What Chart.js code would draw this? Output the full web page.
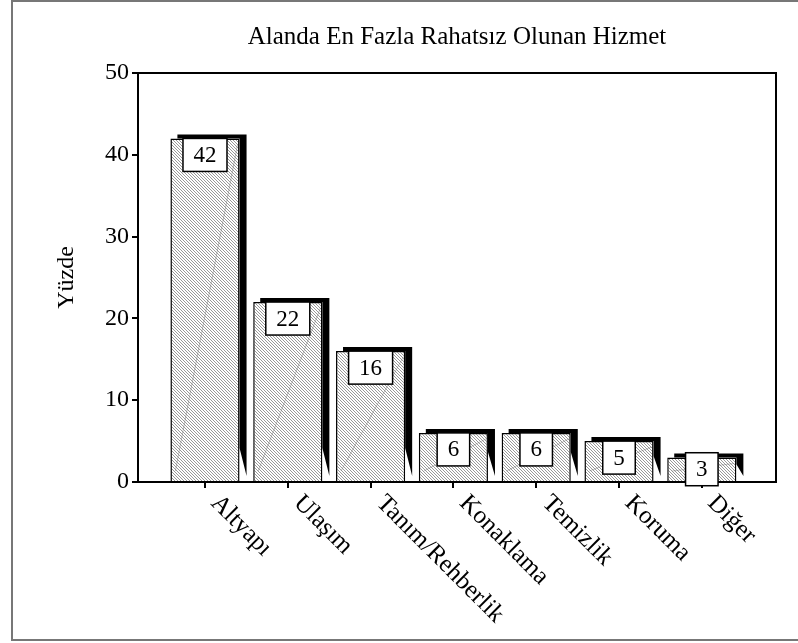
<!DOCTYPE html>
<html>
<head>
<meta charset="utf-8">
<script src="https://cdn.jsdelivr.net/npm/chart.js@4"></script>
<style>
html, body { margin: 0; padding: 0; background: #fff; }
</style>
</head>
<body>
<canvas id="grafico" width="798" height="643"></canvas>
<script>
var kategoriler = ["Altyapı", "Ulaşım", "Tanım/Rehberlik", "Konaklama", "Temizlik", "Koruma", "Diğer"];
var yuzdeler = [42, 22, 16, 6, 6, 5, 3];
var yEtiketleri = [0, 10, 20, 30, 40, 50];
var baslik = "Alanda En Fazla Rahatsız Olunan Hizmet";
var eksenBasligi = "Yüzde";

var fuente = "'Liberation Serif', 'Times New Roman', serif";

function crearTrama(ctx)
{
    var c = document.createElement('canvas');
    c.width = 3;
    c.height = 3;
    var g = c.getContext('2d');
    g.fillStyle = '#fff';
    g.fillRect(0, 0, 3, 3);
    g.fillStyle = '#999';
    for (var i = 0; i < 3; i++) {
        g.fillRect(i, i, 1, 1);
    }
    return ctx.createPattern(c, 'repeat');
}

// marco exterior y caja del grafico
var marco = {
    id: 'marco',
    beforeDraw: function(chart) {
        var ctx = chart.ctx;
        ctx.save();
        ctx.fillStyle = '#fff';
        ctx.fillRect(0, 0, chart.width, chart.height);
        ctx.strokeStyle = '#777';
        ctx.lineWidth = 2;
        ctx.beginPath();
        ctx.moveTo(chart.width, 1);
        ctx.lineTo(12, 1);
        ctx.lineTo(12, 640);
        ctx.lineTo(chart.width, 640);
        ctx.stroke();
        ctx.restore();
    },
    afterDraw: function(chart) {
        var a = chart.chartArea;
        var ctx = chart.ctx;
        ctx.save();
        ctx.strokeStyle = '#000';
        ctx.lineWidth = 2;
        ctx.beginPath();
        ctx.moveTo(a.left, a.top);
        ctx.lineTo(a.right, a.top);
        ctx.lineTo(a.right, a.bottom);
        ctx.stroke();
        ctx.restore();
    }
};

// sombra negra detras de cada barra
var sombras = {
    id: 'sombras',
    beforeDatasetsDraw: function(chart) {
        var ctx = chart.ctx;
        var meta = chart.getDatasetMeta(0);
        ctx.save();
        ctx.fillStyle = '#000';
        meta.data.forEach(function(b) {
            var L = b.x - b.width / 2;
            var R = b.x + b.width / 2;
            var alto = b.base - b.y;
            var k = Math.min(28, alto * 0.5);
            ctx.beginPath();
            ctx.moveTo(L + 7, b.y - 4);
            ctx.lineTo(R + 7, b.y - 4);
            ctx.lineTo(R + 7, b.base - 5);
            ctx.lineTo(R, b.base - 5 - k);
            ctx.lineTo(R, b.y);
            ctx.lineTo(L + 7, b.y);
            ctx.closePath();
            ctx.fill();
        });
        ctx.restore();
    }
};

// cajas con valores y etiquetas inclinadas
var etiquetas = {
    id: 'etiquetas',
    afterDatasetsDraw: function(chart) {
        var ctx = chart.ctx;
        var meta = chart.getDatasetMeta(0);
        ctx.save();
        meta.data.forEach(function(b, i) {
            var L = b.x - b.width / 2;
            var R = b.x + b.width / 2;
            ctx.strokeStyle = 'rgba(120,120,120,0.45)';
            ctx.lineWidth = 1;
            ctx.beginPath();
            ctx.moveTo(L + 5, b.base - 10);
            ctx.lineTo(R - 2, b.y + 6);
            ctx.stroke();

            var txt = String(yuzdeler[i]);
            ctx.font = '23px ' + fuente;
            var w = ctx.measureText(txt).width + 21;
            var h = 33;
            var alto = b.base - b.y;
            var top = alto >= h ? b.y : (b.y + b.base) / 2 - h / 2;
            ctx.fillStyle = '#fff';
            ctx.fillRect(b.x - w / 2, top, w, h);
            ctx.strokeStyle = '#000';
            ctx.lineWidth = 1.5;
            ctx.strokeRect(b.x - w / 2, top, w, h);
            ctx.fillStyle = '#000';
            ctx.textAlign = 'center';
            ctx.textBaseline = 'middle';
            ctx.fillText(txt, b.x, top + h / 2 + 1);
        });
        ctx.restore();
    },
    afterDraw: function(chart) {
        var ctx = chart.ctx;
        var xs = chart.scales.x;
        ctx.save();
        ctx.font = '25px ' + fuente;
        ctx.fillStyle = '#000';
        ctx.textAlign = 'left';
        ctx.textBaseline = 'alphabetic';
        kategoriler.forEach(function(k, i) {
            var px = xs.getPixelForValue(i);
            ctx.save();
            ctx.translate(px + 5, chart.chartArea.bottom + 22);
            ctx.rotate(Math.PI / 4);
            ctx.fillText(k, 0, 0);
            ctx.restore();
        });
        ctx.restore();
    }
};

var canvas = document.getElementById('grafico');
var trama = crearTrama(canvas.getContext('2d'));

var puntos = kategoriler.map(function(k, i) {
    return { x: i, y: yuzdeler[i] };
});

new Chart(canvas, {
    type: 'bar',
    data: {
        datasets: [{
            data: puntos,
            backgroundColor: trama,
            borderColor: '#000',
            borderWidth: 1.5,
            barPercentage: 0.835,
            categoryPercentage: 1
        }]
    },
    options: {
        responsive: false,
        animation: false,
        devicePixelRatio: 1,
        layout: { padding: { left: 0, right: 22, top: 0, bottom: 0 } },
        plugins: {
            legend: { display: false },
            tooltip: { enabled: false },
            title: {
                display: true,
                text: baslik,
                fullSize: false,
                color: '#000',
                font: { family: fuente, size: 25, weight: 'normal' },
                padding: { top: 22, bottom: 21 }
            }
        },
        scales: {
            x: {
                type: 'linear',
                offset: false,
                min: -0.809,
                max: 6.896,
                afterBuildTicks: function(s) {
                    s.ticks = kategoriler.map(function(k, i) { return { value: i }; });
                },
                afterFit: function(s) { s.height = 161; },
                ticks: { display: false },
                grid: { display: true, offset: false, drawOnChartArea: false, tickLength: 6, color: '#000', lineWidth: 2 },
                border: { color: '#000', width: 2 }
            },
            y: {
                min: 0,
                max: 50,
                afterBuildTicks: function(s) {
                    s.ticks = yEtiketleri.map(function(v) { return { value: v }; });
                },
                afterFit: function(s) { s.width = 138; },
                ticks: { color: '#000', font: { family: fuente, size: 24 }, padding: 3 },
                grid: { drawOnChartArea: false, tickLength: 6, color: '#000', lineWidth: 2 },
                border: { color: '#000', width: 2 },
                title: {
                    display: true,
                    text: eksenBasligi,
                    color: '#000',
                    font: { family: fuente, size: 24 },
                    padding: { top: 52, bottom: 0 }
                }
            }
        }
    },
    plugins: [marco, sombras, etiquetas]
});
</script>
</body>
</html>
